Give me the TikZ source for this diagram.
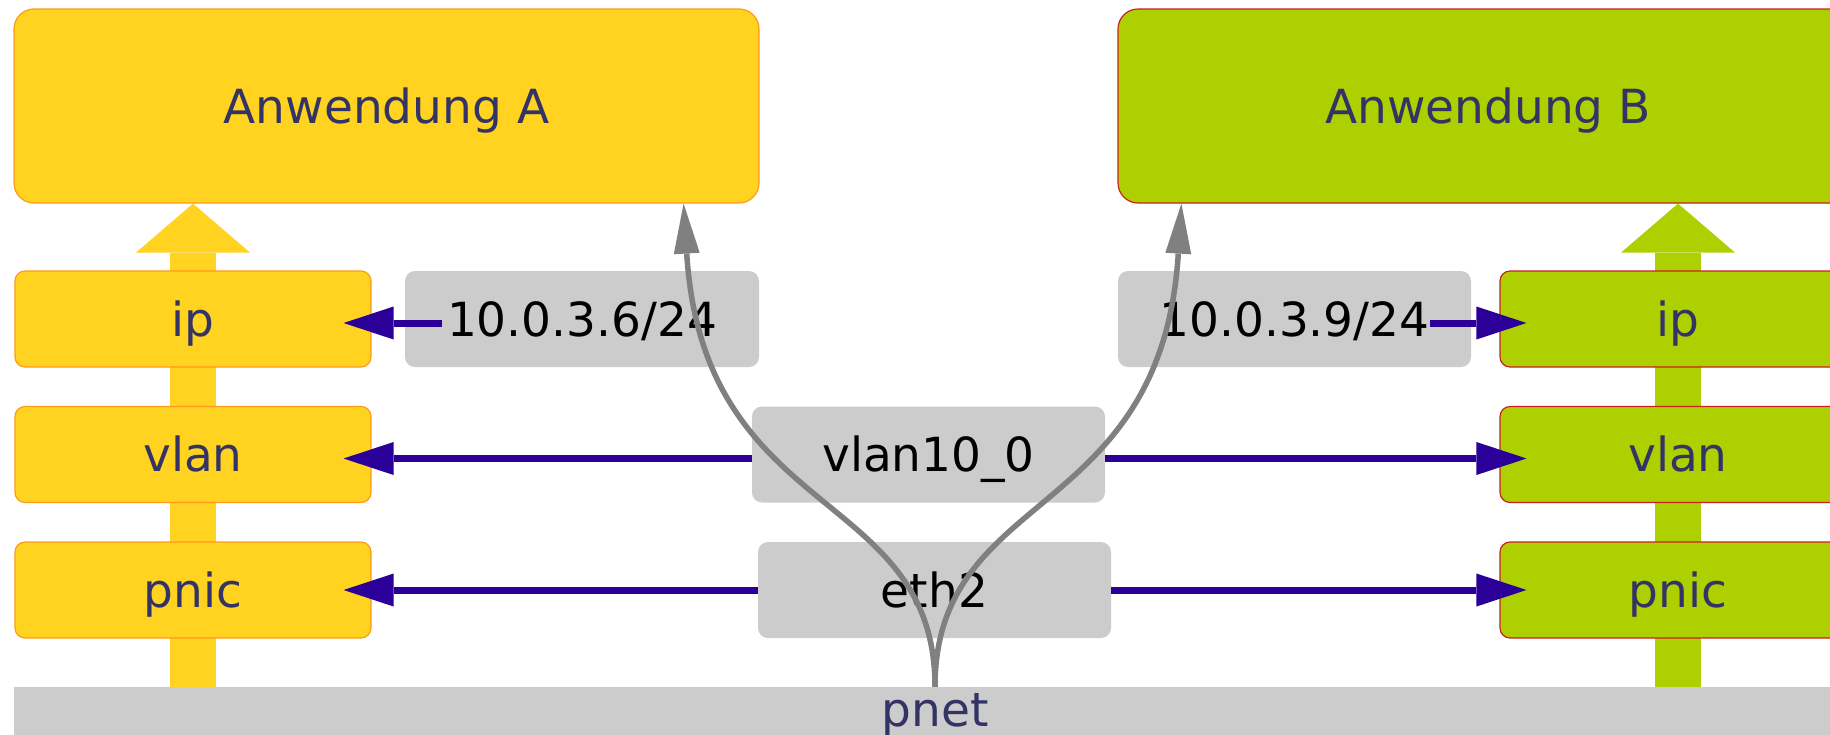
\documentclass[tikz,border=0pt]{standalone}
\usepackage{fontspec}
\setmainfont{DejaVu Sans}
\usetikzlibrary{arrows.meta,calc,backgrounds}
\definecolor{appyellow}{HTML}{FFD320}
\definecolor{appgreen}{HTML}{AECF00}
\definecolor{edgeorange}{HTML}{FF9A1A}
\definecolor{edgered}{HTML}{C9211E}
\definecolor{ifgray}{HTML}{CCCCCC}
\definecolor{labelnavy}{HTML}{333366}
\definecolor{linkblue}{HTML}{2A0099}
\definecolor{routegray}{HTML}{808080}
\tikzset{
  every node/.style={font=\fontsize{47}{56}\selectfont, inner sep=0pt,
    text height=34pt, text depth=0pt},
  app/.style={rectangle, rounded corners=20pt, minimum height=194pt,
    line width=1.2pt, text=labelnavy},
  layer/.style={rectangle, rounded corners=10pt, minimum width=356pt,
    minimum height=96pt, line width=1.2pt, text=labelnavy},
  ylayer/.style={layer, fill=appyellow, draw=edgeorange},
  glayer/.style={layer, fill=appgreen, draw=edgered},
  iface/.style={rectangle, rounded corners=10pt, fill=ifgray,
    minimum width=353pt, minimum height=96pt, text=black},
  link/.style={draw=linkblue, line width=7pt,
    -{Triangle[length=50pt,width=33pt,line width=0pt]}},
  route/.style={draw=routegray, line width=5.5pt,
    -{Triangle[length=50pt,width=26pt,line width=0pt]}},
  stack/.style={line width=46pt,
    -{Triangle[length=49pt,width=114pt,line width=0pt]}},
}
\begin{document}
\begin{tikzpicture}[x=1pt,y=-1pt]
\clip (0,0) rectangle (1830,734);

% applications
\node[app, fill=appyellow, draw=edgeorange, minimum width=745pt] (appA) at (386.5,106) {Anwendung A};
\node[app, fill=appgreen, draw=edgered, minimum width=740pt] (appB) at (1488,106) {Anwendung B};

% protocol stacks
\node[ylayer] (ipA)   at (193,319)   {ip};
\node[ylayer] (vlanA) at (193,454.5) {vlan};
\node[ylayer] (pnicA) at (193,590)   {pnic};
\node[glayer] (ipB)   at (1678,319)   {ip};
\node[glayer] (vlanB) at (1678,454.5) {vlan};
\node[glayer] (pnicB) at (1678,590)   {pnic};

% interfaces
\node[iface, minimum width=354pt] (addrA) at (582,319) {10.0.3.6/24};
\node[iface] (addrB)  at (1294.5,319) {10.0.3.9/24};
\node[iface] (vlanif) at (928.5,454.5) {vlan10\_0};
\node[iface] (eth)    at (934.5,590) {eth2};

% physical network
\node[anchor=base, fill=ifgray, minimum width=1842pt, text height=39pt,
  text depth=61pt, text=labelnavy] (pnet) at (935,726) {pnet};

% data path through each stack
\begin{scope}[on background layer]
  \draw[stack, draw=appyellow] (ipA.center |- pnet.north) -- (ipA.center |- appA.south);
  \draw[stack, draw=appgreen] (ipB.center |- pnet.north) -- (ipB.center |- appB.south);
\end{scope}

% interface assignments
\draw[link] ($(addrA.west)+(37,4)$) -- ($(ipA.east)+(-28,4)$);
\draw[link] ($(addrB.east)+(-41,4)$) -- ($(ipB.west)+(27,4)$);
\draw[link] ($(vlanif.west)+(0,4)$) -- ($(vlanA.east)+(-28,4)$);
\draw[link] ($(vlanif.east)+(0,4)$) -- ($(vlanB.west)+(27,4)$);
\draw[link] (eth.west) -- ($(pnicA.east)+(-28,0)$);
\draw[link] (eth.east) -- ($(pnicB.west)+(27,0)$);

% traffic from the network to the applications
\draw[route] (pnet.north) .. controls +(0,-200) and +(20,320) .. ($(appA.south east)+(-76,0)$);
\draw[route] (pnet.north) .. controls +(0,-200) and +(-20,320) .. ($(appB.south west)+(64,0)$);
\end{tikzpicture}
\end{document}
